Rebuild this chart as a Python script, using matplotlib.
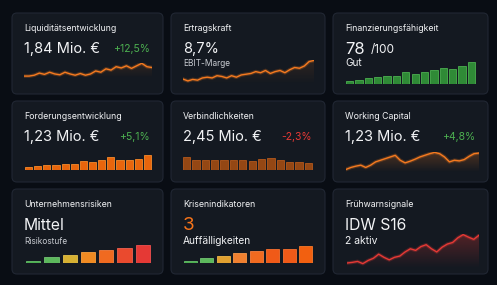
import matplotlib
matplotlib.use("Agg")
import matplotlib.pyplot as plt
from matplotlib.patches import FancyBboxPatch, Polygon
from matplotlib.colors import to_rgb
import numpy as np

plt.rcParams['font.family'] = ['Inter', 'DejaVu Sans']

# ---------------- data ----------------
titles = ["Liquiditätsentwicklung", "Ertragskraft", "Finanzierungsfähigkeit",
          "Forderungsentwicklung", "Verbindlichkeiten", "Working Capital",
          "Unternehmensrisiken", "Krisenindikatoren", "Frühwarnsignale"]
main_values = ["1,84 Mio. €", "8,7%", "78", "1,23 Mio. €", "2,45 Mio. €",
               "1,23 Mio. €", "Mittel", "3", "IDW S16"]
sub_texts = [None, "EBIT-Marge", "Gut", None, None, None,
             "Risikostufe", "Auffälligkeiten", "2 aktiv"]
changes = ["+12,5%", None, None, "+5,1%", "-2,3%", "+4,8%", None, None, None]

liquiditaet = [8, 8, 10, 15, 12, 17, 13, 11, 17, 13, 10, 14, 10, 13, 20, 17,
               25, 22, 30, 27, 32, 26, 32, 38, 30, 28]
ertragskraft = [15, 10, 14, 12, 18, 20, 18, 24, 22, 18, 24, 20, 26, 28, 30,
                35, 32, 38, 30, 35, 38, 32, 40, 46, 44, 50, 62, 65]
finanzierung = [3, 4, 6, 7, 8, 8, 12, 10, 12, 14, 16, 15, 18, 22]
forderungen = [9, 12, 16, 16, 18, 18, 26, 24, 29, 39, 31, 31, 33, 45]
verbindlichkeiten = [38, 30, 30, 30, 30, 30, 30, 25, 33, 35, 28, 23, 23, 20]
working_capital = [12, 18, 22, 25, 18, 25, 35, 40, 45, 50, 55, 40, 32, 37, 43,
                   50, 55, 60, 64, 60, 50, 35, 40, 38, 42, 52, 60, 62]
risiken = [2.3, 5.7, 8.3, 10.7, 13, 15.3, 18]
krisen = [2.3, 5, 7.3, 9.7, 12, 14, 14, 17.3]
fruehwarn = [10, 12, 15, 8, 18, 25, 38, 28, 20, 28, 32, 45, 55, 50, 62, 68,
             55, 45, 60, 70, 75, 90, 100, 92, 85, 98]

# ---------------- styling ----------------
W, H = 497, 285
BG = "#090d14"
CARD = "#141921"
EDGE = "#212733"
WHITE = "#f2f3f5"
GREY = "#c9ccd2"
GREEN = "#4caf50"
RED = "#e53935"
ORANGE = "#f57a1f"

cols = [(12, 163), (171, 325), (333, 488)]
rows = [(13, 94), (101, 182), (189, 274)]

fig = plt.figure(figsize=(W / 100, H / 100), dpi=100)
fig.patch.set_facecolor(BG)
bg = fig.add_axes([0, 0, 1, 1])
bg.set_xlim(0, W)
bg.set_ylim(H, 0)
bg.axis("off")
bg.set_facecolor(BG)


def px_axes(x0, x1, y0, y1):
    ax = fig.add_axes([x0 / W, 1 - y1 / H, (x1 - x0) / W, (y1 - y0) / H])
    ax.axis("off")
    ax.patch.set_alpha(0)
    return ax


for i in range(9):
    r, c = divmod(i, 3)
    (x0, x1), (y0, y1) = cols[c], rows[r]
    bg.add_patch(FancyBboxPatch((x0, y0), x1 - x0, y1 - y0,
                                boxstyle="round,pad=0,rounding_size=5",
                                fc=CARD, ec=EDGE, lw=0.8))
    tx = x0 + 12
    bg.text(tx, y0 + 15.5, titles[i], color=WHITE, fontsize=6.3,
            va="center", ha="left")
    big = 10.5 if r < 2 else 11.3
    if i == 2:
        big = 12
    if i == 7:
        big = 13.5
    color = WHITE if i != 7 else "#f5731a"
    bg.text(tx, y0 + 36.5, main_values[i], color=color, fontsize=big,
            va="center", ha="left")
    if i == 2:
        bg.text(tx + 26, y0 + 37.5, "/100", color=WHITE, fontsize=8.5,
                va="center", ha="left")
    if sub_texts[i]:
        fs = {1: 6.0, 2: 7.3, 6: 6.0, 7: 7.3, 8: 7.5}[i]
        bg.text(tx, y0 + (50.5 if r == 0 else 52.5), sub_texts[i],
                color=GREY if i in (1, 6) else WHITE,
                fontsize=fs, va="center", ha="left")
    if changes[i]:
        cc = GREEN if changes[i].startswith("+") else RED
        bg.text(x1 - 13, y0 + 36.5, changes[i], color=cc, fontsize=7.5,
                va="center", ha="right")


def line_chart(data, box, color, fill_alpha):
    ax = px_axes(*box)
    x = np.arange(len(data))
    d = np.array(data, dtype=float)
    lo, hi = d.min(), d.max()
    base = lo - (hi - lo) * 0.15
    top = hi + (hi - lo) * 0.02
    rgb = to_rgb(color)
    grad = np.zeros((100, 2, 4))
    grad[..., :3] = rgb
    grad[..., 3] = np.linspace(0, fill_alpha, 100)[:, None]
    im = ax.imshow(grad, extent=[0, len(d) - 1, base, hi], origin="lower",
                   aspect="auto", zorder=1)
    poly = Polygon(np.column_stack([np.r_[x, x[-1], x[0]],
                                    np.r_[d, base, base]]),
                   closed=True, fc="none", ec="none")
    ax.add_patch(poly)
    im.set_clip_path(poly)
    ax.plot(x, d, color=color, lw=2.6, alpha=0.25, solid_joinstyle="round",
            zorder=2)
    ax.plot(x, d, color=color, lw=1.0, solid_joinstyle="round", zorder=3)
    ax.set_xlim(0, len(d) - 1)
    ax.set_ylim(base, top)
    return ax


def bar_chart(data, box, colors, edges, alpha=1.0):
    ax = px_axes(*box)
    x = np.arange(len(data))
    ax.bar(x, data, width=0.78, color=colors, edgecolor=edges, lw=0.6,
           alpha=alpha)
    ax.set_xlim(-0.5, len(data) - 0.5)
    ax.set_ylim(0, max(data))
    return ax


line_chart(liquiditaet, (24, 152, 63, 78), ORANGE, 0.12)
line_chart(ertragskraft, (183, 314, 60, 84), ORANGE, 0.12)
bar_chart(finanzierung, (345, 476, 62, 84), "#2f8a36", "#4caf50")
bar_chart(forderungen, (24, 152, 155, 170), "#e8650c", "#f58a2a")
bar_chart(verbindlichkeiten, (182, 313, 157, 170), "#9c4a14", "#b85a1c", 0.95)
line_chart(working_capital, (346, 479, 152, 172), ORANGE, 0.25)
bar_chart(risiken, (24, 152, 245, 263),
          ["#4caf50", "#5cb85c", "#d6b032", "#f08a22", "#f06a20", "#ea4a2e", "#e53935"],
          ["#66c06a", "#72c472", "#e6c24a", "#f8a040", "#f88040", "#f06050", "#f05050"])
bar_chart(krisen, (182, 314, 246, 263),
          ["#4caf50", "#5cb85c", "#e0a030", "#f08030", "#f06a20", "#f05a18", "#f05a18", "#f26010"],
          ["#66c06a", "#72c472", "#f0b848", "#f89848", "#f88040", "#f87030", "#f87030", "#f87828"])
line_chart(fruehwarn, (347, 479, 234, 268), RED, 0.3)

fig.savefig("out.png", dpi=100, facecolor=BG)
